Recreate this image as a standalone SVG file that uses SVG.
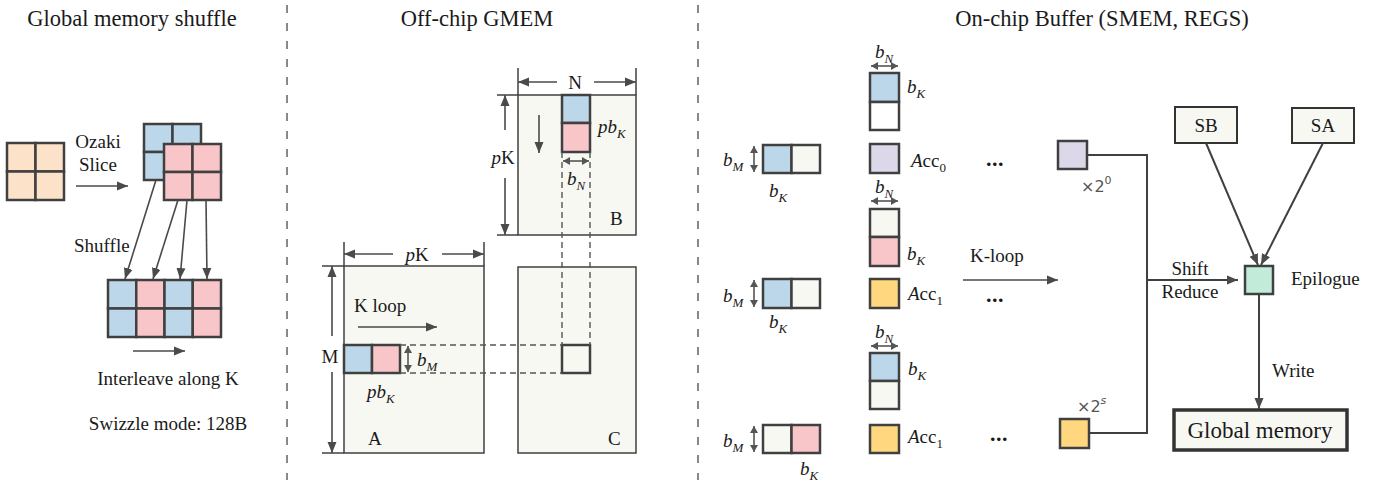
<svg xmlns="http://www.w3.org/2000/svg" width="1385" height="485" viewBox="0 0 1385 485" font-family="'Liberation Serif', 'DejaVu Serif', 'Times New Roman', Times, serif">
<defs>
<marker id="ah" markerUnits="userSpaceOnUse" markerWidth="12" markerHeight="10" refX="11" refY="5" orient="auto-start-reverse"><path d="M0,0.5 L11,5 L0,9.5 z" fill="#4a4a4a"/></marker>
<marker id="ahs" markerUnits="userSpaceOnUse" markerWidth="8" markerHeight="8" refX="7" refY="4" orient="auto-start-reverse"><path d="M0,0 L7,4 L0,8 z" fill="#555"/></marker>
<style>
text{font-family:'Liberation Serif','DejaVu Serif','Times New Roman',Times,serif;fill:#1a1a1a;font-size:19px}
.title{font-size:22.5px}
.gm{font-size:23px}
.it{font-style:italic}
.sub{font-size:13px}
.math{font-family:'DejaVu Sans','Noto Sans',sans-serif;fill:#555;font-size:16px}
.sup{font-size:11px}
.cell{stroke:#404040;stroke-width:2.5}
.blue{fill:#BDD7EA}
.pink{fill:#F8C5C9}
.peach{fill:#FCE2C8}
.lav{fill:#DCD8EA}
.yel{fill:#FFD77E}
.mint{fill:#C2EBD9}
.off{fill:#F8F8F3}
.wht{fill:#FFFFFF}
.mat{fill:#F8F8F3;stroke:#404040;stroke-width:1.5}
.dim{stroke:#404040;stroke-width:1.5;fill:none}
.arr{stroke:#4a4a4a;stroke-width:1.6;fill:none;marker-end:url(#ah)}
.arr2{stroke:#404040;stroke-width:2;fill:none;marker-end:url(#ah)}
.darr{stroke:#555;stroke-width:1.6;fill:none;marker-start:url(#ahs);marker-end:url(#ahs)}
.dash{stroke:#555;stroke-width:1.4;stroke-dasharray:6 4;fill:none}
.sep{stroke:#888;stroke-width:2;stroke-dasharray:8 10;fill:none}
.wire{stroke:#404040;stroke-width:2;fill:none}
.box{fill:#F8F8F3;stroke:#333;stroke-width:2}
.gbox{fill:#F8F8F3;stroke:#333;stroke-width:3.5}
.dots{font-size:22px;font-weight:bold;letter-spacing:0.5px}
</style>
</defs>

<g id="separators">
<line class="sep" x1="287" y1="5" x2="287" y2="480"/>
<line class="sep" x1="698" y1="5" x2="698" y2="480"/>
</g>

<g id="titles">
<text class="title" x="132" y="26" text-anchor="middle">Global memory shuffle</text>
<text class="title" x="477" y="26" text-anchor="middle">Off-chip GMEM</text>
<text class="title" x="1102" y="26" text-anchor="middle">On-chip Buffer (SMEM, REGS)</text>
</g>

<g id="orig-tile">
<rect class="cell peach" x="7" y="143" width="28.5" height="28.5"/>
<rect class="cell peach" x="35.5" y="143" width="28.5" height="28.5"/>
<rect class="cell peach" x="7" y="171.5" width="28.5" height="28.5"/>
<rect class="cell peach" x="35.5" y="171.5" width="28.5" height="28.5"/>
</g>
<g id="slice-blue">
<rect class="cell blue" x="144" y="124" width="28.5" height="28"/>
<rect class="cell blue" x="172.5" y="124" width="28.5" height="28"/>
<rect class="cell blue" x="144" y="152" width="28.5" height="28"/>
<rect class="cell blue" x="172.5" y="152" width="28.5" height="28"/>
</g>
<g id="slice-pink">
<rect class="cell pink" x="164" y="144" width="28.5" height="28"/>
<rect class="cell pink" x="192.5" y="144" width="28.5" height="28"/>
<rect class="cell pink" x="164" y="172" width="28.5" height="28"/>
<rect class="cell pink" x="192.5" y="172" width="28.5" height="28"/>
</g>
<g id="interleaved">
<rect class="cell blue" x="108" y="280" width="28.25" height="28.5"/>
<rect class="cell pink" x="136.25" y="280" width="28.25" height="28.5"/>
<rect class="cell blue" x="164.5" y="280" width="28.25" height="28.5"/>
<rect class="cell pink" x="192.75" y="280" width="28.25" height="28.5"/>
<rect class="cell blue" x="108" y="308.5" width="28.25" height="28.5"/>
<rect class="cell pink" x="136.25" y="308.5" width="28.25" height="28.5"/>
<rect class="cell blue" x="164.5" y="308.5" width="28.25" height="28.5"/>
<rect class="cell pink" x="192.75" y="308.5" width="28.25" height="28.5"/>
</g>
<g id="left-labels">
<text x="98" y="148" text-anchor="middle">Ozaki</text>
<text x="98" y="171" text-anchor="middle">Slice</text>
<text x="74" y="252">Shuffle</text>
<text x="168" y="385" text-anchor="middle">Interleave along K</text>
<text x="168" y="430" text-anchor="middle">Swizzle mode: 128B</text>
</g>

<g id="matB">
<rect class="mat" x="518" y="95" width="118" height="140"/>
<rect class="cell blue" x="562" y="95" width="28" height="28"/>
<rect class="cell pink" x="562" y="123" width="28" height="29"/>
<text x="610" y="225">B</text>
<text class="it" x="598" y="133">pb<tspan class="sub" dy="5">K</tspan></text>
<text class="it" x="567" y="185">b<tspan class="sub" dy="5">N</tspan></text>
</g>
<g id="matA">
<rect class="mat" x="344" y="266" width="140" height="187"/>
<rect class="cell blue" x="344" y="345" width="28" height="28"/>
<rect class="cell pink" x="372" y="345" width="28" height="28"/>
<text x="368" y="445">A</text>
<text x="354" y="312">K loop</text>
<text class="it" x="367" y="398">pb<tspan class="sub" dy="5">K</tspan></text>
<text class="it" x="417" y="366">b<tspan class="sub" dy="5">M</tspan></text>
</g>
<g id="matC">
<rect class="mat" x="518" y="267" width="118" height="186"/>
<rect class="cell off" x="562" y="345" width="28" height="28"/>
<text x="608" y="445">C</text>
</g>
<g id="dims">
<line class="dim" x1="518" y1="68" x2="518" y2="95"/>
<line class="dim" x1="636" y1="68" x2="636" y2="95"/>
<text x="575" y="89" text-anchor="middle">N</text>
<line class="dim" x1="497" y1="95" x2="518" y2="95"/>
<line class="dim" x1="497" y1="235" x2="518" y2="235"/>
<text x="503" y="164" text-anchor="middle"><tspan class="it">p</tspan>K</text>
<line class="dim" x1="344" y1="242" x2="344" y2="266"/>
<line class="dim" x1="484" y1="242" x2="484" y2="266"/>
<text x="417" y="261" text-anchor="middle"><tspan class="it">p</tspan>K</text>
<line class="dim" x1="322" y1="266" x2="344" y2="266"/>
<line class="dim" x1="322" y1="453" x2="344" y2="453"/>
<text x="330" y="363" text-anchor="middle">M</text>
</g>

<g id="row1">
<rect class="cell blue" x="763" y="145" width="28.5" height="28"/>
<rect class="cell off" x="791.5" y="145" width="28.5" height="28"/>
<text class="it" x="723" y="166">b<tspan class="sub" dy="5">M</tspan></text>
<text class="it" x="769" y="197">b<tspan class="sub" dy="5">K</tspan></text>
<rect class="cell blue" x="870" y="73" width="29" height="29"/>
<rect class="cell wht" x="870" y="102" width="29" height="28"/>
<text class="it" x="875" y="58">b<tspan class="sub" dy="5">N</tspan></text>
<text class="it" x="907" y="93">b<tspan class="sub" dy="5">K</tspan></text>
<rect class="cell lav" x="870" y="144" width="29" height="29"/>
<text x="911" y="167"><tspan class="it">A</tspan>cc<tspan class="sub" dy="5">0</tspan></text>
<text class="dots" x="986" y="166">...</text>
<rect class="cell lav" x="1058" y="141" width="29" height="28"/>
<text class="math" x="1081" y="192">×2<tspan class="sup" dy="-8">0</tspan></text>
</g>
<g id="row2">
<rect class="cell blue" x="763" y="279" width="28.5" height="29"/>
<rect class="cell off" x="791.5" y="279" width="28.5" height="29"/>
<text class="it" x="723" y="302">b<tspan class="sub" dy="5">M</tspan></text>
<text class="it" x="769" y="328">b<tspan class="sub" dy="5">K</tspan></text>
<rect class="cell off" x="870" y="209" width="29" height="28"/>
<rect class="cell pink" x="870" y="237" width="29" height="29"/>
<text class="it" x="875" y="193">b<tspan class="sub" dy="5">N</tspan></text>
<text class="it" x="907" y="260">b<tspan class="sub" dy="5">K</tspan></text>
<rect class="cell yel" x="870" y="279" width="29" height="29"/>
<text x="908" y="300"><tspan class="it">A</tspan>cc<tspan class="sub" dy="5">1</tspan></text>
<text x="970" y="262">K-loop</text>
<text class="dots" x="986" y="302">...</text>
</g>
<g id="row3">
<rect class="cell off" x="763" y="425" width="28.5" height="28"/>
<rect class="cell pink" x="791.5" y="425" width="28.5" height="28"/>
<text class="it" x="723" y="447">b<tspan class="sub" dy="5">M</tspan></text>
<text class="it" x="800" y="475">b<tspan class="sub" dy="5">K</tspan></text>
<rect class="cell blue" x="870" y="353" width="29" height="28"/>
<rect class="cell off" x="870" y="381" width="29" height="28"/>
<text class="it" x="875" y="338">b<tspan class="sub" dy="5">N</tspan></text>
<text class="it" x="908" y="375">b<tspan class="sub" dy="5">K</tspan></text>
<rect class="cell yel" x="870" y="425" width="29" height="28"/>
<text x="908" y="443"><tspan class="it">A</tspan>cc<tspan class="sub" dy="5">1</tspan></text>
<text class="dots" x="990" y="441">...</text>
<rect class="cell yel" x="1060" y="419" width="29" height="29"/>
<text class="math" x="1077" y="412">×2<tspan class="sup it" dy="-8">s</tspan></text>
</g>
<g id="sb">
<rect class="box" x="1175" y="107" width="62" height="36"/>
<text x="1206" y="132" text-anchor="middle">SB</text>
</g>
<g id="sa">
<rect class="box" x="1292" y="108" width="62" height="35"/>
<text x="1323" y="132" text-anchor="middle">SA</text>
</g>
<g id="epilogue">
<rect class="cell mint" x="1245" y="266" width="28" height="28"/>
<text x="1291" y="285">Epilogue</text>
</g>
<g id="global-memory">
<rect class="gbox" x="1174" y="410" width="173" height="40"/>
<text class="gm" x="1260" y="438" text-anchor="middle">Global memory</text>
</g>

<g id="connectors">
<line class="arr" x1="76" y1="186" x2="128" y2="186"/>
<line class="arr" x1="156" y1="180" x2="125" y2="279"/>
<line class="arr" x1="178" y1="200" x2="153" y2="279"/>
<line class="arr" x1="187" y1="200" x2="180" y2="279"/>
<line class="arr" x1="206" y1="200" x2="207" y2="279"/>
<line class="arr" x1="133" y1="351" x2="185" y2="351"/>

<line class="arr" x1="557" y1="82" x2="518" y2="82"/>
<line class="arr" x1="594" y1="82" x2="636" y2="82"/>
<line class="arr" x1="505" y1="130" x2="505" y2="95"/>
<line class="arr" x1="505" y1="178" x2="505" y2="235"/>
<line class="arr" x1="539" y1="115" x2="539" y2="153"/>
<line class="darr" x1="563" y1="161" x2="589" y2="161"/>
<line class="dash" x1="562" y1="152" x2="562" y2="345"/>
<line class="dash" x1="590" y1="152" x2="590" y2="345"/>
<line class="arr" x1="393" y1="254" x2="344" y2="254"/>
<line class="arr" x1="442" y1="254" x2="484" y2="254"/>
<line class="arr" x1="332" y1="336" x2="332" y2="266"/>
<line class="arr" x1="332" y1="372" x2="332" y2="453"/>
<line class="arr" x1="358" y1="327" x2="437" y2="327"/>
<line class="darr" x1="408" y1="346" x2="408" y2="372"/>
<line class="dash" x1="400" y1="345" x2="562" y2="345"/>
<line class="dash" x1="400" y1="373" x2="562" y2="373"/>

<line class="darr" x1="754" y1="146" x2="754" y2="172"/>
<line class="darr" x1="871" y1="66" x2="898" y2="66"/>
<line class="darr" x1="754" y1="280" x2="754" y2="307"/>
<line class="darr" x1="871" y1="201" x2="898" y2="201"/>
<line class="darr" x1="754" y1="426" x2="754" y2="452"/>
<line class="darr" x1="871" y1="346" x2="898" y2="346"/>
<line class="arr" x1="963" y1="280" x2="1058" y2="280"/>

<polyline class="wire" points="1087,155 1147,155 1147,433 1089,433"/>
<line class="arr2" x1="1147" y1="280" x2="1238" y2="280"/>
<text x="1190" y="275" text-anchor="middle">Shift</text>
<text x="1190" y="298" text-anchor="middle">Reduce</text>
<line class="arr2" x1="1206" y1="143" x2="1258" y2="265"/>
<line class="arr2" x1="1323" y1="143" x2="1261" y2="265"/>
<line class="arr2" x1="1259" y1="294" x2="1259" y2="409"/>
<text x="1272" y="377">Write</text>
</g>
</svg>
